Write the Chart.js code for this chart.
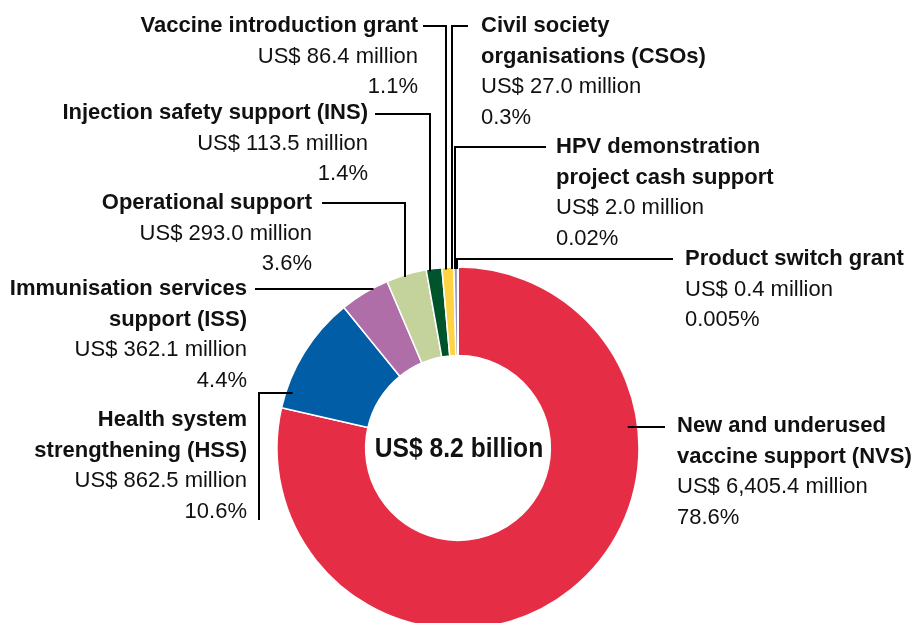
<!DOCTYPE html>
<html>
<head>
<meta charset="utf-8">
<script src="https://cdn.jsdelivr.net/npm/chart.js@4.4.1/dist/chart.umd.min.js"></script>
<style>
  html, body { margin: 0; padding: 0; background: #fff; overflow: hidden; }
  #wrap { width: 915px; height: 623px; overflow: hidden; }
</style>
</head>
<body>
<div id="wrap"><canvas id="donut" width="915" height="640"></canvas></div>
<script>
// datos (millones de US$)
const categorias = [
  ['New and underused', 'vaccine support (NVS)'],
  ['Health system', 'strengthening (HSS)'],
  ['Immunisation services', 'support (ISS)'],
  ['Operational support'],
  ['Injection safety support (INS)'],
  ['Vaccine introduction grant'],
  ['Civil society', 'organisations (CSOs)'],
  ['HPV demonstration', 'project cash support'],
  ['Product switch grant']
];
const montos = [6405.4, 862.5, 362.1, 293.0, 113.5, 86.4, 27.0, 2.0, 0.4];
const porcentajes = ['78.6%', '10.6%', '4.4%', '3.6%', '1.4%', '1.1%', '0.3%', '0.02%', '0.005%'];
const colores = ['#e52d46', '#005da6', '#b06ea9', '#c4d29c', '#00542b', '#fed443', '#9c96c8', '#b7b7b7', '#e52d46'];
const totalTexto = 'US$ 8.2 billion';

// posicion de cada etiqueta y su linea guia
const etiquetas = [
  { x: 677, y: 426, align: 'left',  tipo: 'h', puntos: [[665, 427]], dentro: 10 },
  { x: 247, y: 420, align: 'right', tipo: 'h', puntos: [[259, 520], [259, 393]], dentro: 7 },
  { x: 247, y: 289, align: 'right', tipo: 'h', puntos: [[255, 289]], dentro: 2 },
  { x: 312, y: 203, align: 'right', tipo: 'v', puntos: [[322, 203], [405, 203]], dentro: 2 },
  { x: 368, y: 113, align: 'right', tipo: 'v', puntos: [[375, 114], [430, 114]], dentro: 2 },
  { x: 418, y: 26,  align: 'right', tipo: 'v', puntos: [[423, 26], [446, 26]], dentro: 2 },
  { x: 481, y: 26,  align: 'left',  tipo: 'v', puntos: [[468, 26], [452, 26]], dentro: 2 },
  { x: 556, y: 147, align: 'left',  tipo: 'v', puntos: [[546, 147], [455, 147]], dentro: 2 },
  { x: 685, y: 259, align: 'left',  tipo: 'v', puntos: [[673, 259], [457, 259]], dentro: 2 }
];
const interlineado = 30.5;

const etiquetasPlugin = {
  id: 'etiquetas',
  afterDraw(chart) {
    const c = chart.ctx;
    const arco = chart.getDatasetMeta(0).data[0];
    const cx = arco.x, cy = arco.y, R = arco.outerRadius;

    c.save();
    // lineas guia
    c.strokeStyle = '#000';
    c.lineWidth = 2;
    etiquetas.forEach(e => {
      const pts = e.puntos;
      const last = pts[pts.length - 1];
      let fin;
      if (e.tipo === 'v') {
        const yr = cy - Math.sqrt(R * R - (last[0] - cx) * (last[0] - cx));
        fin = [last[0], yr + e.dentro];
      } else {
        const d = Math.sqrt(R * R - (last[1] - cy) * (last[1] - cy));
        fin = last[0] < cx ? [cx - d + e.dentro, last[1]] : [cx + d - e.dentro, last[1]];
      }
      c.beginPath();
      c.moveTo(pts[0][0], pts[0][1]);
      for (let i = 1; i < pts.length; i++) c.lineTo(pts[i][0], pts[i][1]);
      c.lineTo(fin[0], fin[1]);
      c.stroke();
    });

    // textos
    c.fillStyle = '#111';
    c.textBaseline = 'middle';
    etiquetas.forEach((e, i) => {
      c.textAlign = e.align;
      let y = e.y;
      c.font = 'bold 22px "Liberation Sans", Arial, sans-serif';
      categorias[i].forEach(t => { c.fillText(t, e.x, y); y += interlineado; });
      c.font = '22px "Liberation Sans", Arial, sans-serif';
      const monto = montos[i].toLocaleString('en-US', { minimumFractionDigits: 1, maximumFractionDigits: 1 });
      c.fillText('US$ ' + monto + ' million', e.x, y); y += interlineado;
      c.fillText(porcentajes[i], e.x, y);
    });

    // texto central (un poco comprimido, como la fuente condensada original)
    c.textAlign = 'center';
    c.font = 'bold 28px "Liberation Sans", Arial, sans-serif';
    c.translate(cx + 1, cy + 1);
    c.scale(0.88, 1);
    c.fillText(totalTexto, 0, 0);
    c.restore();
  }
};

new Chart(document.getElementById('donut'), {
  type: 'doughnut',
  data: {
    labels: categorias.map(l => l.join(' ')),
    datasets: [{
      data: montos,
      backgroundColor: colores,
      borderColor: '#fff',
      borderWidth: 1.5,
      hoverOffset: 0
    }]
  },
  options: {
    responsive: false,
    animation: false,
    events: [],
    radius: 181,
    cutout: 92,
    rotation: 0,
    layout: { padding: { top: 267, bottom: 11, left: 277, right: 276 } },
    plugins: {
      legend: { display: false },
      tooltip: { enabled: false }
    }
  },
  plugins: [etiquetasPlugin]
});
</script>
</body>
</html>
